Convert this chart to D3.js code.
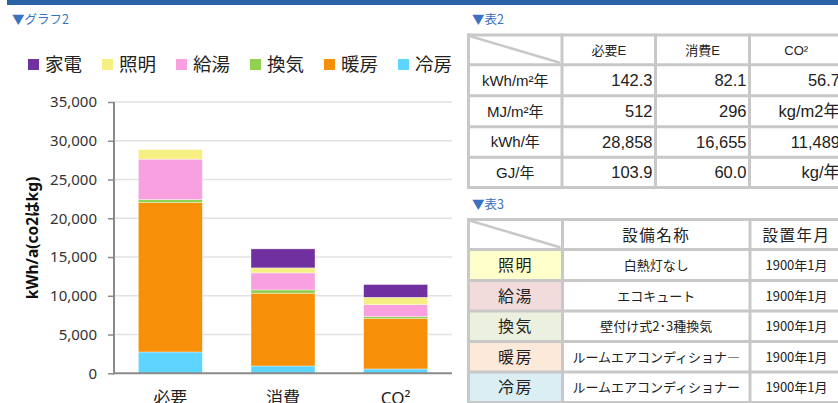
<!DOCTYPE html>
<html><head><meta charset="utf-8">
<script src="https://cdn.jsdelivr.net/npm/d3@7"></script>
<style>
html,body{margin:0;padding:0;background:#fff;overflow:hidden;}
svg{display:block;}
</style></head>
<body>
<svg id="c" width="838" height="403"></svg>
<script>
// ---- data ----
const categories = ["必要", "消費", "CO²"];
const seriesNames = ["冷房", "暖房", "換気", "給湯", "照明", "家電"]; // bottom -> top
const legendOrder = ["家電", "照明", "給湯", "換気", "暖房", "冷房"];
const coolValues = [2750, 945, 560];
const heatValues = [19280, 9385, 6490];
const ventValues = [385, 430, 260];
const hotWaterValues = [5215, 2190, 1540];
const lightValues = [1228, 650, 950];
const applianceValues = [0, 2450, 1650];
const yTicks = [0, 5000, 10000, 15000, 20000, 25000, 30000, 35000];

const t2Header = ["必要E", "消費E", "CO²"];
const t2RowLabels = ["kWh/m²年", "MJ/m²年", "kWh/年", "GJ/年"];
const t2Col1 = ["142.3", "512", "28,858", "103.9"];
const t2Col2 = ["82.1", "296", "16,655", "60.0"];
const t2Col3 = ["56.7", "kg/m2年", "11,489", "kg/年"];

const t3Header = ["設備名称", "設置年月"];
const t3RowLabels = ["照明", "給湯", "換気", "暖房", "冷房"];
const t3Equip = ["白熱灯なし", "エコキュート", "壁付け式2･3種換気", "ルームエアコンディショナ―", "ルームエアコンディショナー"];
const t3Dates = ["1900年1月", "1900年1月", "1900年1月", "1900年1月", "1900年1月"];

// ---- styles ----
const colors = {"家電":"#7030A0","照明":"#F6EF82","給湯":"#F9A1E0","換気":"#92D050","暖房":"#F79008","冷房":"#5DD5FE"};
const rowFill = {"照明":"#FFFFCC","給湯":"#F2DCDB","換気":"#EBF1DE","暖房":"#FDE9D9","冷房":"#DAEEF3"};
const JP = "'Noto Sans CJK JP','Noto Sans',sans-serif";
const SANS = "'Liberation Sans',Arial,'Noto Sans CJK JP',sans-serif";
const CHARTF = "'Noto Sans','Open Sans','Noto Sans CJK JP',sans-serif";

const svg = d3.select("#c");

// top bar
svg.append("rect").attr("x",7).attr("y",0).attr("width",831).attr("height",5).attr("fill","#2A62A6");

// section titles
const titles = [["▼グラフ2",12,24],["▼表2",472,24],["▼表3",472,209]];
svg.selectAll("text.sec").data(titles).join("text").attr("class","sec")
  .attr("x",d=>d[1]).attr("y",d=>d[2]).text(d=>d[0])
  .attr("font-family",JP).attr("font-size",12.5).attr("fill","#3A72C0");

// ---- chart ----
const x = d3.scaleBand().domain(categories).range([114,452]).paddingInner(0.432).paddingOuter(0.216);
const y = d3.scaleLinear().domain([0,35000]).range([373.3,102]);

// gridlines
svg.append("g").selectAll("line").data(yTicks.filter(v=>v>0)).join("line")
  .attr("x1",114).attr("x2",452).attr("y1",d=>y(d)).attr("y2",d=>y(d))
  .attr("stroke","#E2E2E2").attr("stroke-width",1.5);

const table = categories.map((c,i)=>({cat:c,"冷房":coolValues[i],"暖房":heatValues[i],"換気":ventValues[i],"給湯":hotWaterValues[i],"照明":lightValues[i],"家電":applianceValues[i]}));
const stacked = d3.stack().keys(seriesNames)(table);

svg.append("g").selectAll("g").data(stacked).join("g").attr("fill",d=>colors[d.key])
  .selectAll("rect").data(d=>d).join("rect")
  .attr("x",d=>x(d.data.cat)).attr("width",x.bandwidth())
  .attr("y",d=>y(d[1])).attr("height",d=>Math.max(0,y(d[0])-y(d[1])))
  .attr("stroke","#fff").attr("stroke-opacity",0.6).attr("stroke-width",0.6);

// y axis
const yAxis = svg.append("g").attr("transform","translate(114,0)")
  .call(d3.axisLeft(y).tickValues(yTicks).tickFormat(d3.format(",")).tickSize(6).tickPadding(11));
yAxis.select(".domain").attr("stroke","#8A8A8A").attr("stroke-width",2).attr("d","M0,102V374.3");
yAxis.selectAll(".tick line").attr("stroke","#8A8A8A").attr("stroke-width",1.5);
yAxis.selectAll(".tick text").attr("font-family",CHARTF).attr("font-size",15).attr("fill","#333");

// x axis
const xAxis = svg.append("g").attr("transform","translate(0,373.3)")
  .call(d3.axisBottom(x).tickSize(0).tickPadding(19));
xAxis.select(".domain").attr("stroke","#8A8A8A").attr("stroke-width",2).attr("d","M113,0H452");
xAxis.selectAll(".tick text").attr("font-family",CHARTF).attr("font-size",17).attr("fill","#222");

// y title
svg.append("text").attr("transform","translate(38,238) rotate(-90)").attr("text-anchor","middle")
  .attr("font-family",CHARTF).attr("font-weight","bold").attr("font-size",15.5).attr("fill","#111")
  .text("kWh/a(co2はkg)");

// legend
const lg = svg.append("g").selectAll("g").data(legendOrder).join("g")
  .attr("transform",(d,i)=>`translate(${28+i*74},59)`);
lg.append("rect").attr("width",11).attr("height",11).attr("fill",d=>colors[d]);
lg.append("text").attr("x",17).attr("y",12).text(d=>d)
  .attr("font-family",JP).attr("font-size",18.5).attr("fill","#222");

// ---- tables ----
const GRID = "#C8C8C8";
function drawGrid(xs, ys){
  const g = svg.append("g");
  g.selectAll("line.v").data(xs).join("line").attr("x1",d=>d).attr("x2",d=>d)
    .attr("y1",ys[0]-1.5).attr("y2",ys[ys.length-1]+1.5).attr("stroke",GRID).attr("stroke-width",3);
  g.selectAll("line.h").data(ys).join("line").attr("y1",d=>d).attr("y2",d=>d)
    .attr("x1",xs[0]-1.5).attr("x2",850).attr("stroke",GRID).attr("stroke-width",3);
  // diagonal in corner
  g.append("line").attr("x1",xs[0]+1).attr("y1",ys[0]+1).attr("x2",xs[1]-2).attr("y2",ys[1]-2)
    .attr("stroke",GRID).attr("stroke-width",2.5);
}

// table 2
const t2x = [468.5, 562, 655.5, 749.5, 843];
const t2y = [35, 64.7, 95.7, 126.7, 157.2, 187.5];
drawGrid(t2x.slice(0,4), t2y);
const t2 = svg.append("g");
t2.selectAll("text.h").data(t2Header).join("text")
  .attr("x",(d,i)=>(t2x[i+1]+t2x[i+2])/2).attr("y",(t2y[0]+t2y[1])/2+5)
  .attr("text-anchor","middle").text(d=>d).attr("font-family",SANS).attr("font-size",13).attr("fill","#222");
t2.selectAll("text.r").data(t2RowLabels).join("text")
  .attr("x",(t2x[0]+t2x[1])/2).attr("y",(d,i)=>(t2y[i+1]+t2y[i+2])/2+5.5)
  .attr("text-anchor","middle").text(d=>d).attr("font-family",SANS).attr("font-size",15).attr("fill","#222");
[t2Col1,t2Col2,t2Col3].forEach((col,ci)=>{
  t2.append("g").selectAll("text").data(col).join("text")
    .attr("x",t2x[ci+2]-3).attr("y",(d,i)=>(t2y[i+1]+t2y[i+2])/2+6)
    .attr("text-anchor","end").text(d=>d).attr("font-family",SANS).attr("font-size",16.5).attr("fill","#222");
});

// table 3
const t3x = [468.5, 562.5, 750, 843];
const t3y = [219.5, 249.5, 280.5, 311, 341.5, 372, 402.5];
const t3 = svg.append("g");
t3.selectAll("rect").data(t3RowLabels).join("rect")
  .attr("x",t3x[0]).attr("y",(d,i)=>t3y[i+1]).attr("width",t3x[1]-t3x[0]).attr("height",(d,i)=>t3y[i+2]-t3y[i+1])
  .attr("fill",d=>rowFill[d]);
drawGrid(t3x.slice(0,3), t3y);
t3.selectAll("text.h").data(t3Header).join("text")
  .attr("x",(d,i)=>(t3x[i+1]+t3x[i+2])/2).attr("y",(t3y[0]+t3y[1])/2+6)
  .attr("text-anchor","middle").attr("letter-spacing",1.5).text(d=>d)
  .attr("font-family",JP).attr("font-size",15.5).attr("fill","#222");
t3.selectAll("text.r").data(t3RowLabels).join("text")
  .attr("x",(t3x[0]+t3x[1])/2).attr("y",(d,i)=>(t3y[i+1]+t3y[i+2])/2+6)
  .attr("text-anchor","middle").attr("letter-spacing",1.5).text(d=>d)
  .attr("font-family",JP).attr("font-size",16).attr("fill","#222");
t3.selectAll("text.e").data(t3Equip).join("text")
  .attr("x",(t3x[1]+t3x[2])/2).attr("y",(d,i)=>(t3y[i+1]+t3y[i+2])/2+5)
  .attr("text-anchor","middle").text(d=>d)
  .attr("font-family",JP).attr("font-size",13).attr("fill","#222");
t3.selectAll("text.d").data(t3Dates).join("text")
  .attr("x",(t3x[2]+t3x[3])/2).attr("y",(d,i)=>(t3y[i+1]+t3y[i+2])/2+5)
  .attr("text-anchor","middle").text(d=>d)
  .attr("font-family",JP).attr("font-size",13).attr("fill","#222");
</script>
</body></html>
